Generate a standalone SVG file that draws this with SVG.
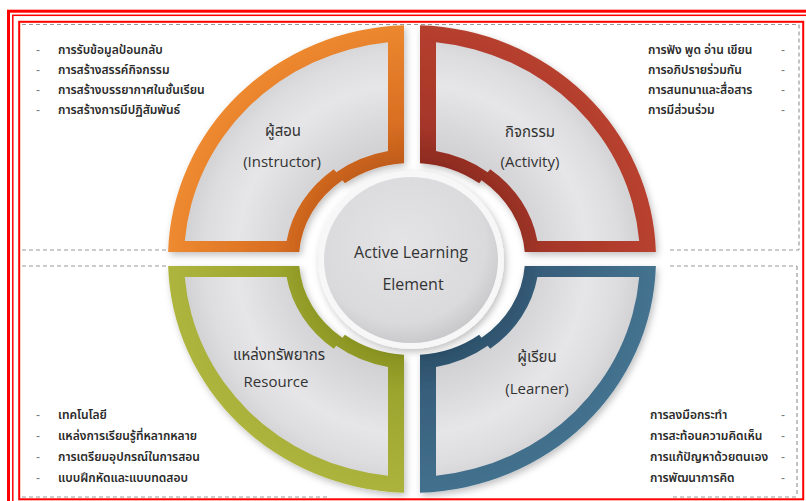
<svg xmlns="http://www.w3.org/2000/svg" xmlns:xlink="http://www.w3.org/1999/xlink" width="806" height="501" viewBox="0 0 806 501">
<style>
.frame{fill:none;stroke:#FF0000}
.guide{fill:none;stroke:#9A9A9A;stroke-width:1.2;stroke-dasharray:4 3}
.lbl{font-family:'Open Sans','Noto Sans Thai','Noto Sans','DejaVu Sans',sans-serif;font-size:15px;fill:#333;text-anchor:middle}
.ctr{font-family:'Open Sans','Noto Sans',sans-serif;font-size:16px;fill:#333;text-anchor:middle}
.li{font-family:'Noto Sans Thai','Noto Sans','DejaVu Sans',sans-serif;font-size:12px;font-weight:600;fill:#2a2a2a}
.dash{font-family:'Liberation Sans',sans-serif;font-size:12px;fill:#777}
</style>
<defs>
<path id="band" d="M-8,-233.87 A244,234 0 0 0 -243.89,-7 L-112.72,-7 A113,100 0 0 1 -69.57,-78.8 L-67.11,-75.65 A109,96 0 0 1 -8,-95.74 Z"/>
<path id="panel" d="M-24,-216.79 A228,218 0 0 0 -227.22,-18 L-125.41,-18 A127,114 0 0 1 -78.19,-89.83 L-75.73,-86.68 A123,110 0 0 1 -24,-107.89 Z"/>
<radialGradient id="gPanel" gradientUnits="userSpaceOnUse" cx="0" cy="0" r="244">
<stop offset="0.4" stop-color="#CDCDD0"/>
<stop offset="0.55" stop-color="#D8D8DA"/>
<stop offset="0.72" stop-color="#E6E6E8"/>
<stop offset="0.85" stop-color="#DDDDDF"/>
<stop offset="0.95" stop-color="#D0D0D3"/>
</radialGradient>
<radialGradient id="gOrange" gradientUnits="userSpaceOnUse" cx="0" cy="0" r="244">
<stop offset="0.38" stop-color="#BD5A19"/>
<stop offset="0.55" stop-color="#D86E22"/>
<stop offset="1" stop-color="#EE8A30"/>
</radialGradient>
<radialGradient id="gRed" gradientUnits="userSpaceOnUse" cx="0" cy="0" r="244">
<stop offset="0.38" stop-color="#8A2A1E"/>
<stop offset="0.55" stop-color="#A5362A"/>
<stop offset="1" stop-color="#B8402E"/>
</radialGradient>
<radialGradient id="gGreen" gradientUnits="userSpaceOnUse" cx="0" cy="0" r="244">
<stop offset="0.38" stop-color="#86901F"/>
<stop offset="0.55" stop-color="#9CA52E"/>
<stop offset="1" stop-color="#AEB53E"/>
</radialGradient>
<radialGradient id="gBlue" gradientUnits="userSpaceOnUse" cx="0" cy="0" r="244">
<stop offset="0.38" stop-color="#2A4D66"/>
<stop offset="0.55" stop-color="#375F7C"/>
<stop offset="1" stop-color="#44738F"/>
</radialGradient>
<radialGradient id="gCenter" cx="0.45" cy="0.4" r="0.6">
<stop offset="0" stop-color="#E4E4E6"/>
<stop offset="0.8" stop-color="#DADADC"/>
<stop offset="1" stop-color="#CACACD"/>
</radialGradient>
<filter id="sh" x="-10%" y="-10%" width="125%" height="125%">
<feDropShadow dx="2" dy="3" stdDeviation="3.5" flood-color="#000" flood-opacity="0.25"/>
</filter>
</defs>
<rect width="806" height="501" fill="#FFFFFF"/>
<g id="frame">
<rect class="frame" x="8.5" y="11.2" width="820" height="520" stroke-width="3"/>
<rect class="frame" x="12.8" y="15.3" width="820" height="520" stroke-width="1.5"/>
<rect class="frame" x="19.2" y="21.8" width="784" height="477.5" stroke-width="2"/>
</g>
<g id="connectors">
<path class="guide" d="M22,24.5 H799 M799,24.5 V250 M22,250 H168 M670,250 H799 M22,266 H168 M670,266 H797 M797,266 V497 M22,497 H327 M673,497 H797"/>
</g>
<g id="instructor">
<g filter="url(#sh)"><g transform="translate(412,259)"><use href="#band" fill="url(#gOrange)"/><use href="#panel" fill="url(#gPanel)"/></g></g>
<text class="lbl" x="283" y="136">ผู้สอน</text>
<text class="lbl" x="282" y="167">(Instructor)</text>
</g>
<g id="activity">
<g filter="url(#sh)"><g transform="translate(412,259) scale(-1,1)"><use href="#band" fill="url(#gRed)"/><use href="#panel" fill="url(#gPanel)"/></g></g>
<text class="lbl" x="530" y="137">กิจกรรม</text>
<text class="lbl" x="530" y="167">(Activity)</text>
</g>
<g id="resource">
<g filter="url(#sh)"><g transform="translate(412,259) scale(1,-1)"><use href="#band" fill="url(#gGreen)"/><use href="#panel" fill="url(#gPanel)"/></g></g>
<text class="lbl" x="279" y="360">แหล่งทรัพยากร</text>
<text class="lbl" x="276" y="387">Resource</text>
</g>
<g id="learner">
<g filter="url(#sh)"><g transform="translate(412,259) scale(-1,-1)"><use href="#band" fill="url(#gBlue)"/><use href="#panel" fill="url(#gPanel)"/></g></g>
<text class="lbl" x="537" y="362">ผู้เรียน</text>
<text class="lbl" x="537" y="394">(Learner)</text>
</g>
<g id="center">
<ellipse cx="411" cy="260" rx="93" ry="89" fill="#F7F7F8" filter="url(#sh)"/>
<ellipse cx="411" cy="260" rx="87" ry="83" fill="url(#gCenter)"/>
<text class="ctr" x="411" y="258">Active Learning</text>
<text class="ctr" x="413" y="290">Element</text>
</g>
<g id="list-instructor">
<text class="dash" x="36" y="54">-</text><text class="li" x="58" y="54">การรับข้อมูลป้อนกลับ</text>
<text class="dash" x="36" y="74">-</text><text class="li" x="58" y="74">การสร้างสรรค์กิจกรรม</text>
<text class="dash" x="36" y="94">-</text><text class="li" x="58" y="94">การสร้างบรรยากาศในชั้นเรียน</text>
<text class="dash" x="36" y="114">-</text><text class="li" x="58" y="114">การสร้างการมีปฏิสัมพันธ์</text>
</g>
<g id="list-activity">
<text class="li" x="648" y="54">การฟัง พูด อ่าน เขียน</text><text class="dash" x="781" y="54">-</text>
<text class="li" x="648" y="74">การอภิปรายร่วมกัน</text><text class="dash" x="781" y="74">-</text>
<text class="li" x="648" y="94">การสนทนาและสื่อสาร</text><text class="dash" x="781" y="94">-</text>
<text class="li" x="648" y="114">การมีส่วนร่วม</text><text class="dash" x="781" y="114">-</text>
</g>
<g id="list-resource">
<text class="dash" x="36" y="419">-</text><text class="li" x="58" y="419">เทคโนโลยี</text>
<text class="dash" x="36" y="440">-</text><text class="li" x="58" y="440">แหล่งการเรียนรู้ที่หลากหลาย</text>
<text class="dash" x="36" y="461">-</text><text class="li" x="58" y="461">การเตรียมอุปกรณ์ในการสอน</text>
<text class="dash" x="36" y="482">-</text><text class="li" x="58" y="482">แบบฝึกหัดและแบบทดสอบ</text>
</g>
<g id="list-learner">
<text class="li" x="650" y="419">การลงมือกระทำ</text><text class="dash" x="781" y="419">-</text>
<text class="li" x="650" y="440">การสะท้อนความคิดเห็น</text><text class="dash" x="781" y="440">-</text>
<text class="li" x="650" y="461">การแก้ปัญหาด้วยตนเอง</text><text class="dash" x="781" y="461">-</text>
<text class="li" x="650" y="482">การพัฒนาการคิด</text><text class="dash" x="781" y="482">-</text>
</g>
</svg>
